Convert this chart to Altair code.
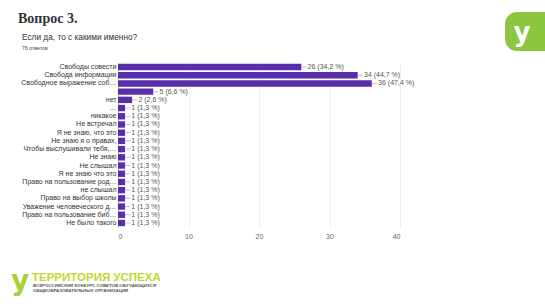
import altair as alt
import pandas as pd

categories = [
    "Свободы совести", "Свобода информации", "Свободное выражение соб…", " ",
    "нет", "…", "никакое", "Не встречал", "Я не знаю, что это",
    "Не знаю я о правах,", "Чтобы выслушивали тебя,…", "Не знаю", "Не слышал",
    "Я не знаю что это", "Право на пользование род…", "не слышал",
    "Право на выбор школы", "Уважение человеческого д…",
    "Право на пользование биб…", "Не было такого",
]
values = [26, 34, 36, 5, 2, 1, 1, 1, 1, 1, 1, 1, 1, 1, 1, 1, 1, 1, 1, 1]
labels = ["26 (34,2 %)", "34 (44,7 %)", "36 (47,4 %)", "5 (6,6 %)", "2 (2,6 %)"] + ["1 (1,3 %)"] * 15

df = pd.DataFrame({"cat": categories, "value": values, "label": labels})

FONT = "Liberation Sans"
PURPLE = "#5a2eaa"

y_enc = alt.Y("cat:N", sort=categories, title=None,
              scale=alt.Scale(paddingInner=0.22, paddingOuter=0.1),
              axis=alt.Axis(labelFontSize=7, labelColor="#333", ticks=False,
                            domain=True, domainColor="#bbb", labelPadding=2,
                            labelLimit=200, labelFont=FONT))
x_enc = alt.X("value:Q", title=None,
              scale=alt.Scale(domain=[0, 40], nice=False),
              axis=alt.Axis(values=list(range(0, 41, 5)),
                            labelExpr="datum.value % 10 == 0 ? datum.label : ''",
                            ticks=False, domain=False, grid=True, gridColor="#eeeeee",
                            labelFontSize=7, labelColor="#666", labelPadding=5,
                            labelFont=FONT))

base = alt.Chart(df)
bars = base.mark_bar(color=PURPLE).encode(x=x_enc, y=y_enc)
leaders = base.transform_calculate(x2="datum.value + 0.75").mark_rule(
    color="#c2b49a", strokeWidth=0.8).encode(
    x="value:Q", x2="x2:Q", y=alt.Y("cat:N", sort=categories))
texts = base.transform_calculate(x2="datum.value + 0.75").mark_text(
    align="left", baseline="middle", dx=1, fontSize=7, color="#555", font=FONT).encode(
    x="x2:Q", y=alt.Y("cat:N", sort=categories), text="label:N")

one = pd.DataFrame({"a": [0]})
def deco_text(txt, x, y, **kw):
    return alt.Chart(one).mark_text(text=txt, **kw).encode(x=alt.value(x), y=alt.value(y))

title1 = deco_text("Вопрос 3.", -100, -40, align="left", baseline="alphabetic",
                   font="Liberation Serif", fontSize=14, fontWeight="bold", color="#333")
title2 = deco_text("Если да, то с какими именно?", -96, -25, align="left", baseline="middle",
                   font=FONT, fontSize=8.3, color="#333")
title3 = deco_text("76 ответов", -96, -15, align="left", baseline="middle",
                   font=FONT, fontSize=5.2, color="#444")

logo_rect = alt.Chart(one).mark_rect(color="#8cc63f", cornerRadius=12).encode(
    x=alt.value(387), x2=alt.value(450), y=alt.value(-51), y2=alt.value(-12))
logo_y = deco_text("у", 404, -30, align="center", baseline="middle",
                   font="DejaVu Sans", fontSize=26, fontWeight="bold", color="white")

bot_icon = deco_text("у", -98, 219, align="center", baseline="middle",
                     font="DejaVu Sans", fontSize=28, fontWeight="bold", color="#a8cf38")
bot1 = deco_text("ТЕРРИТОРИЯ УСПЕХА", -86, 215, align="left", baseline="middle",
                 font="Liberation Sans", fontSize=11.5, fontWeight="bold", color="#c5d62e")
bot2 = deco_text("ВСЕРОССИЙСКИЙ КОНКУРС СОВЕТОВ ОБУЧАЮЩИХСЯ", -85, 222.5, align="left",
                 baseline="middle", font=FONT, fontSize=4.4, fontWeight="bold", color="#555")
bot3 = deco_text("ОБЩЕОБРАЗОВАТЕЛЬНЫХ ОРГАНИЗАЦИЙ", -85, 227.5, align="left",
                 baseline="middle", font=FONT, fontSize=4.4, fontWeight="bold", color="#555")

chart = alt.layer(bars, leaders, texts, title1, title2, title3, logo_rect, logo_y,
                  bot_icon, bot1, bot2, bot3).properties(
    width=282, height=164,
    autosize=alt.AutoSizeParams(type="none"),
    padding={"left": 118, "top": 63, "right": 145, "bottom": 80},
    background="white",
).configure_view(stroke=None)

chart.save("out.html", embed_options={"renderer": "svg", "actions": False})
